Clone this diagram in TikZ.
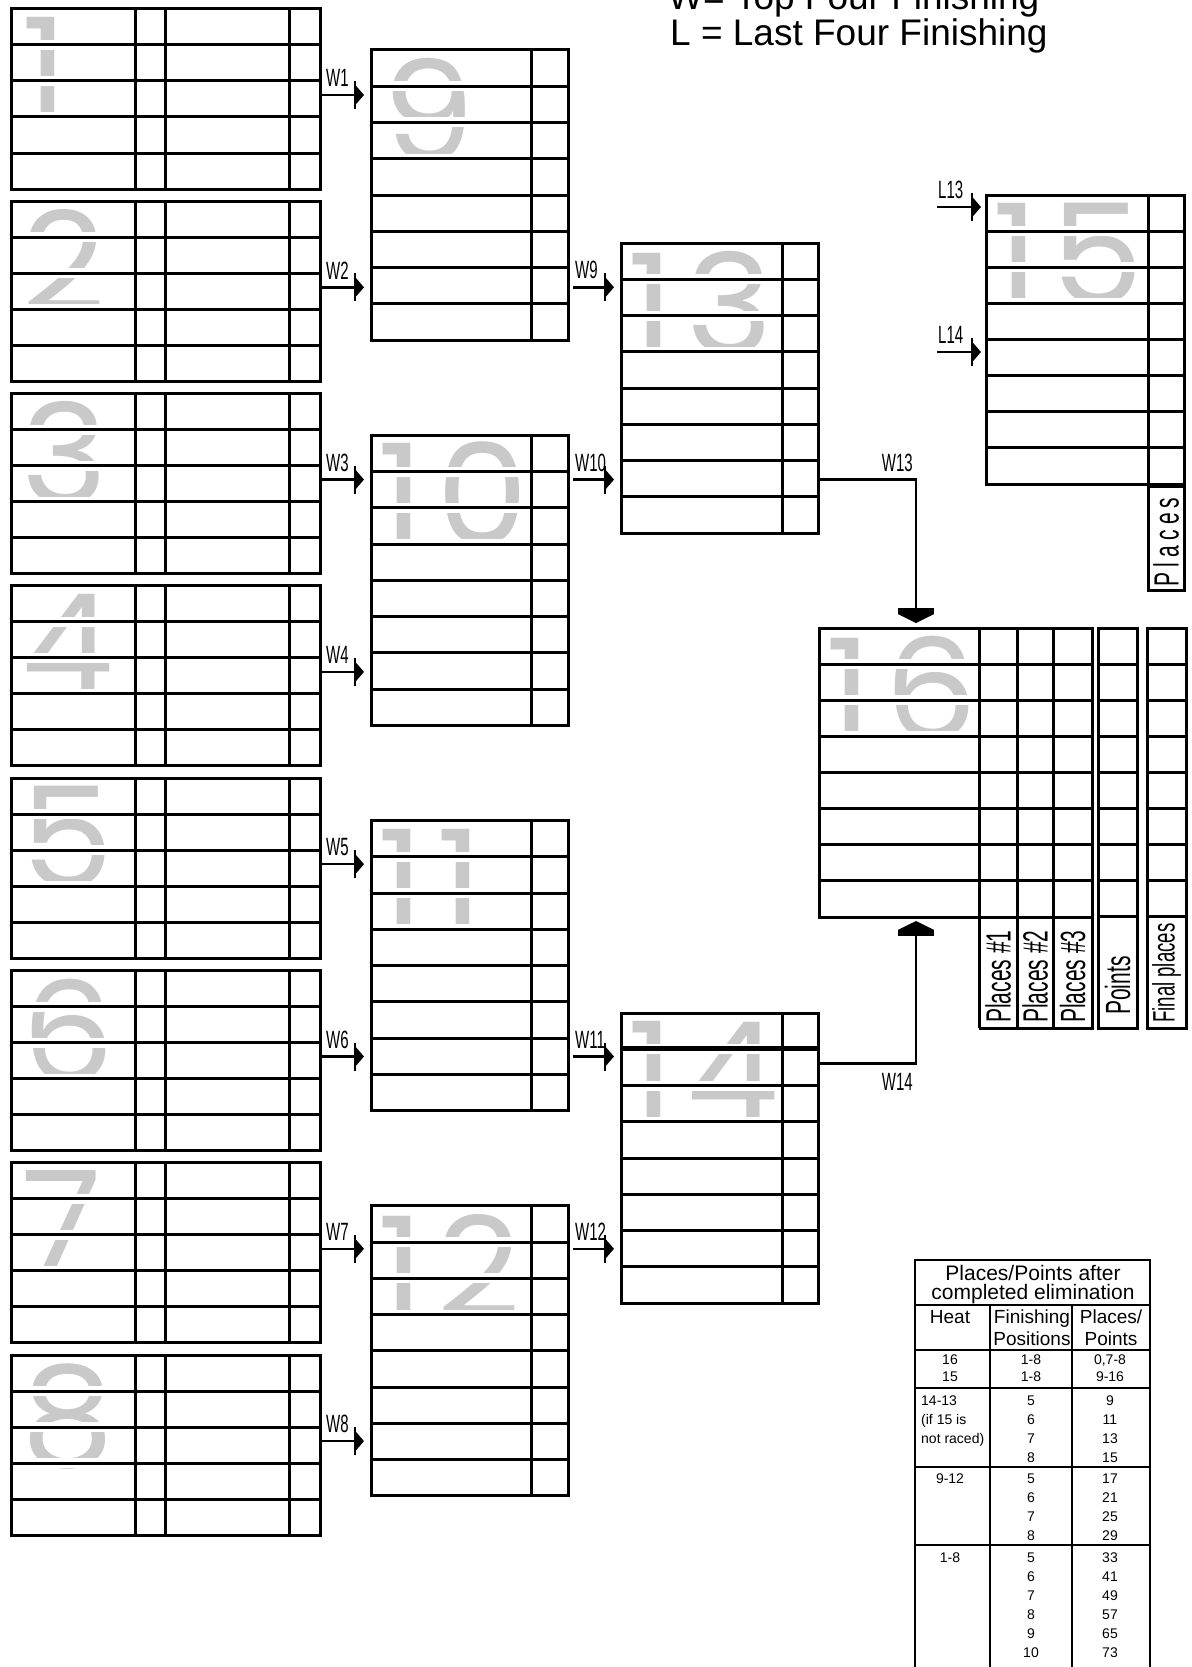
\documentclass[tikz,border=0pt]{standalone}
\usepackage{fontspec}
\setmainfont{Liberation Sans}
\newfontfamily\digitfont[FakeStretch=1.05]{Poppins}
\newfontfamily\narrowfont[FakeStretch=0.6]{Liberation Sans}
\newfontfamily\spacedfont[FakeStretch=0.6,LetterSpace=15]{Liberation Sans}
\usetikzlibrary{arrows.meta}
\definecolor{numgray}{gray}{0.79}

\newcommand\allgrids{%
  \foreach \k in {1,...,8}{%
    \pgfmathsetmacro\ty{9+(\k-1)*192.3}%
    \draw (11,\ty) rectangle (320,\ty+180);
    \foreach \r in {36,72,108,144} \draw (11,\ty+\r) -- (320,\ty+\r);
    \foreach \c in {135,165,289} \draw (\c,\ty) -- (\c,\ty+180);
  }%
  \foreach \j in {0,...,3}{%
    \pgfmathsetmacro\ty{50+\j*385.3}%
    \draw (371,\ty) rectangle (568,\ty+290);
    \foreach \r in {1,...,7} \draw (371,\ty+\r*36.25) -- (568,\ty+\r*36.25);
    \draw (531,\ty) -- (531,\ty+290);
  }%
  \foreach \ty in {243,1013}{%
    \draw (621,\ty) rectangle (818,\ty+290);
    \foreach \r in {1,...,7} \draw (621,\ty+\r*36.25) -- (818,\ty+\r*36.25);
    \draw (782,\ty) -- (782,\ty+290);
  }%
  \draw (986,195) rectangle (1184,484);
  \foreach \r in {1,...,7} \draw (986,195+\r*36.1) -- (1184,195+\r*36.1);
  \draw (1148,195) -- (1148,484);
  \draw (1148,486) rectangle (1184,590);
  \draw (819,628) rectangle (1092,917);
  \foreach \r in {1,...,7} \draw (819,628+\r*36.1) -- (1092,628+\r*36.1);
  \foreach \c in {979,1017,1053} \draw (\c,628) -- (\c,1028);
  \draw (979,1028) -- (1092,1028) -- (1092,917);
  \foreach \x in {1098,1147}{%
    \draw (\x,628) rectangle (\x+39,1028);
    \foreach \r in {1,...,8} \draw (\x,628+\r*36.1) -- (\x+39,628+\r*36.1);
  }%
}

\begin{document}
\begin{tikzpicture}[x=1pt,y=-1pt,
  gl/.style={line width=3pt},
  halo/.style={draw=white,line width=10pt},
  bignum/.style={anchor=north west,inner sep=0pt,text=numgray,font=\digitfont\fontsize{140}{140}\selectfont},
  warrow/.style={line width=2.5pt,-{Bar[width=28pt,line width=2.5pt]Triangle[width=18pt,length=8pt]}},
  bigarrow/.style={line width=2.8pt,-{Bar[width=36pt,line width=6pt]Triangle[width=36pt,length=9pt]}},
  wlabel/.style={inner sep=0pt,font=\narrowfont\fontsize{25}{25}\selectfont},
  rlabel/.style={inner sep=0pt,rotate=90,anchor=west,font=\narrowfont\fontsize{35}{35}\selectfont},
  tline/.style={line width=2.6pt},
  ttitle/.style={inner sep=0pt,anchor=base,font=\fontsize{21}{21}\selectfont},
  thead/.style={inner sep=0pt,anchor=base,font=\fontsize{19}{19}\selectfont},
  tdata/.style={inner sep=0pt,anchor=base,font=\fontsize{14}{14}\selectfont},
  legend/.style={inner sep=0pt,anchor=base west,font=\fontsize{37}{37}\selectfont}]
\useasboundingbox (0,0) rectangle (1191,1667);
\clip (0,0) rectangle (1191,1667);
\fill[white] (0,0) rectangle (1191,1667);

% big gray numbers
\foreach \k in {1,...,8}{%
  \pgfmathsetmacro\ty{9+(\k-1)*192.3+8}%
  \node[bignum] (num\k) at (21,\ty) {\k};
}
\node[bignum] (num9) at (382,58) {9};
\node[bignum] (num10) at (377,442) {1\kern12pt0};
\node[bignum] (num11) at (377,829) {1\kern12pt1};
\node[bignum] (num12) at (377,1214) {1\kern12pt2};
\node[bignum] (num13) at (627,251) {1\kern12pt3};
\node[bignum] (num14) at (627,1021) {1\kern12pt4};
\node[bignum] (num15) at (992,203) {1\kern12pt5};
\node[bignum] (num16) at (825,636) {1\kern12pt6};

% grids
\begin{scope}[halo]\allgrids\end{scope}
\begin{scope}[gl]\allgrids\end{scope}
\draw[line width=4.5pt] (621,1048) -- (818,1048);

% W1..W8
\foreach \k in {1,...,8}{%
  \pgfmathsetmacro\ay{9+(\k-1)*192.3+86}%
  \coordinate (w\k s) at (321,\ay);
  \coordinate (w\k e) at (364,\ay);
  \draw[warrow] (w\k s) -- (w\k e);
  \node[wlabel,anchor=south west] (lw\k) at (326,\ay-8) {W\k};
}
% W9..W12
\foreach \n/\ay in {9/287.3,10/479.6,11/1056.5,12/1248.8}{%
  \coordinate (w\n s) at (573,\ay);
  \coordinate (w\n e) at (614,\ay);
  \draw[warrow] (w\n s) -- (w\n e);
  \node[wlabel,anchor=south west] (lw\n) at (575,\ay-8) {W\n};
}
% L13, L14
\foreach \n/\ay in {13/207,14/352}{%
  \coordinate (l\n s) at (937,\ay);
  \coordinate (l\n e) at (981,\ay);
  \draw[warrow] (l\n s) -- (l\n e);
  \node[wlabel,anchor=south west] (ll\n) at (938,\ay-8) {L\n};
}
% W13, W14
\coordinate (w13s) at (818,479.6);
\coordinate (w13c) at (916,479.6);
\coordinate (w13e) at (916,623);
\draw[bigarrow] (w13s) -- (w13c) -- (w13e);
\node[wlabel,anchor=south east] (lw13) at (913,472) {W13};
\coordinate (w14s) at (818,1063.5);
\coordinate (w14c) at (916,1063.5);
\coordinate (w14e) at (916,921);
\draw[bigarrow] (w14s) -- (w14c) -- (w14e);
\node[wlabel,anchor=north east] (lw14) at (913,1073) {W14};

% rotated labels
\node[rlabel] (rp1) at (998,1023) {Places \#1};
\node[rlabel] (rp2) at (1035,1023) {Places \#2};
\node[rlabel] (rp3) at (1072.5,1023) {Places \#3};
\node[rlabel] (rpt) at (1117.5,1015) {Points};
\node[rlabel,font=\narrowfont\fontsize{31}{31}\selectfont] (rfp) at (1166.5,1023) {Final places};
\node[inner sep=0pt,rotate=90,anchor=west,font=\spacedfont\fontsize{35}{35}\selectfont] (rpl) at (1166,587) {Places};

% legend
\node[legend] (legW) at (668,10) {W= Top Four Finishing};
\node[legend] (legL) at (670,46) {L = Last Four Finishing};

% table
\draw[tline] (915,1700) -- (915,1260) -- (1150,1260) -- (1150,1700);
\foreach \ly in {1305,1350,1388,1467,1545} \draw[tline] (915,\ly) -- (1150,\ly);
\foreach \lx in {990,1072} \draw[line width=2pt] (\lx,1305) -- (\lx,1700);
\node[ttitle] (tt1) at (1033,1280) {Places/Points after};
\node[ttitle] (tt2) at (1033,1299) {completed elimination};
\node[thead] (th1) at (950,1323) {Heat};
\node[thead] (th2) at (1032,1323) {Finishing};
\node[thead] (th3) at (1032,1345) {Positions};
\node[thead] (th4) at (1111,1323) {Places/};
\node[thead] (th5) at (1111,1345) {Points};
% group 1
\node[tdata] (g1h1) at (950,1364) {16};
\node[tdata] (g1h2) at (950,1381) {15};
\node[tdata] (g1f1) at (1031,1364) {1-8};
\node[tdata] (g1f2) at (1031,1381) {1-8};
\node[tdata] (g1p1) at (1110,1364) {0,7-8};
\node[tdata] (g1p2) at (1110,1381) {9-16};
% group 2
\node[tdata,anchor=base west] (g2h1) at (921,1405) {14-13};
\node[tdata,anchor=base west] (g2h2) at (921,1424) {(if 15 is};
\node[tdata,anchor=base west] (g2h3) at (921,1443) {not raced)};
\foreach \f/\p/\ly [count=\i] in {5/9/1405,6/11/1424,7/13/1443,8/15/1462}{%
  \node[tdata] (g2f\i) at (1031,\ly) {\f};
  \node[tdata] (g2p\i) at (1110,\ly) {\p};
}
% group 3
\node[tdata] (g3h1) at (950,1483) {9-12};
\foreach \f/\p/\ly [count=\i] in {5/17/1483,6/21/1502,7/25/1521,8/29/1540}{%
  \node[tdata] (g3f\i) at (1031,\ly) {\f};
  \node[tdata] (g3p\i) at (1110,\ly) {\p};
}
% group 4
\node[tdata] (g4h1) at (950,1562) {1-8};
\foreach \f/\p/\ly [count=\i] in {5/33/1562,6/41/1581,7/49/1600,8/57/1619,9/65/1638,10/73/1657}{%
  \node[tdata] (g4f\i) at (1031,\ly) {\f};
  \node[tdata] (g4p\i) at (1110,\ly) {\p};
}
\end{tikzpicture}
\end{document}
